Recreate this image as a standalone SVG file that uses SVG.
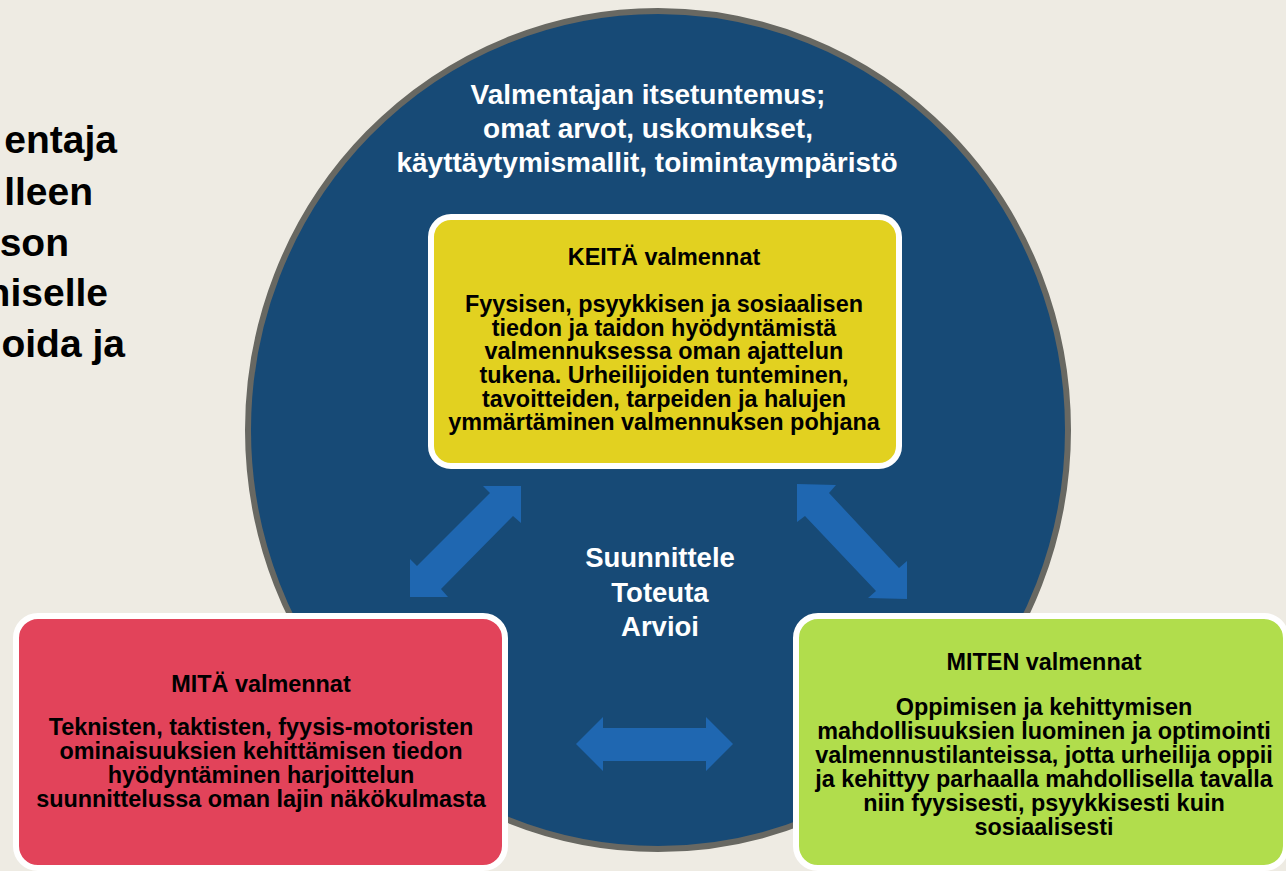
<svg xmlns="http://www.w3.org/2000/svg" width="1286" height="871" viewBox="0 0 1286 871">
<style>
.t{font-family:"Liberation Sans",Arial,sans-serif;font-weight:bold;text-anchor:middle}
.w{fill:#ffffff;font-size:28px}
.c{fill:#ffffff;font-size:27.5px}
.k{fill:#000000;font-size:23.4px}
.lt{font-family:"Liberation Sans",Arial,sans-serif;font-weight:bold;font-size:39px;fill:#000000;text-anchor:end}
.box{stroke:#ffffff;stroke-width:6}
.arr{fill:#1f67b1}
</style>
<rect x="0" y="0" width="1286" height="871" fill="#eeebe3"/>
<g id="side-text">
<text class="lt" x="117" y="153">entaja</text>
<text class="lt" x="93" y="205">lleen</text>
<text class="lt" x="69" y="256">son</text>
<text class="lt" x="108" y="306">niselle</text>
<text class="lt" x="125" y="357">oida ja</text>
</g>
<g id="circle">
<ellipse cx="658" cy="430" rx="410" ry="419" fill="#174a76" stroke="#686862" stroke-width="6"/>
<text class="t w" x="648" y="104">Valmentajan itsetuntemus;</text>
<text class="t w" x="648" y="138">omat arvot, uskomukset,</text>
<text class="t w" x="647" y="172">käyttäytymismallit, toimintaympäristö</text>
</g>
<g id="center">
<text class="t c" x="660" y="567">Suunnittele</text>
<text class="t c" x="660" y="602">Toteuta</text>
<text class="t c" x="660" y="636">Arvioi</text>
</g>
<g id="connectors">
<polygon class="arr" points="521,486 521,523 513,516 441,589 448,597 410,597 410,559 417,566 490,493 483,486"/>
<polygon class="arr" points="797,484 836,485 829,493 899,568 907,561 907,599 868,598 876,591 805,516 797,522"/>
<polygon class="arr" points="576,744 603,717 603,728 706,728 706,717 733,744 706,771 706,761 603,761 603,771"/>
</g>
<g id="keita">
<rect class="box" x="431" y="217" width="468" height="249" rx="20" fill="#e2d120"/>
<text class="t k" x="664" y="265">KEITÄ valmennat</text>
<text class="t k" x="664" y="312">Fyysisen, psyykkisen ja sosiaalisen</text>
<text class="t k" x="664" y="336">tiedon ja taidon hyödyntämistä</text>
<text class="t k" x="664" y="359">valmennuksessa oman ajattelun</text>
<text class="t k" x="664" y="383">tukena. Urheilijoiden tunteminen,</text>
<text class="t k" x="664" y="407">tavoitteiden, tarpeiden ja halujen</text>
<text class="t k" x="664" y="430">ymmärtäminen valmennuksen pohjana</text>
</g>
<g id="mita">
<rect class="box" x="16" y="616" width="489" height="252" rx="22" fill="#e2435a"/>
<text class="t k" x="261" y="692">MITÄ valmennat</text>
<text class="t k" x="261" y="735">Teknisten, taktisten, fyysis-motoristen</text>
<text class="t k" x="261" y="759">ominaisuuksien kehittämisen tiedon</text>
<text class="t k" x="261" y="783">hyödyntäminen harjoittelun</text>
<text class="t k" x="261" y="807">suunnittelussa oman lajin näkökulmasta</text>
</g>
<g id="miten">
<rect class="box" x="796" y="616" width="490" height="252" rx="22" fill="#b1dd4c"/>
<text class="t k" x="1044" y="670">MITEN valmennat</text>
<text class="t k" x="1044" y="715">Oppimisen ja kehittymisen</text>
<text class="t k" x="1044" y="739">mahdollisuuksien luominen ja optimointi</text>
<text class="t k" x="1044" y="763">valmennustilanteissa, jotta urheilija oppii</text>
<text class="t k" x="1044" y="787">ja kehittyy parhaalla mahdollisella tavalla</text>
<text class="t k" x="1044" y="811">niin fyysisesti, psyykkisesti kuin</text>
<text class="t k" x="1044" y="835">sosiaalisesti</text>
</g>
</svg>
